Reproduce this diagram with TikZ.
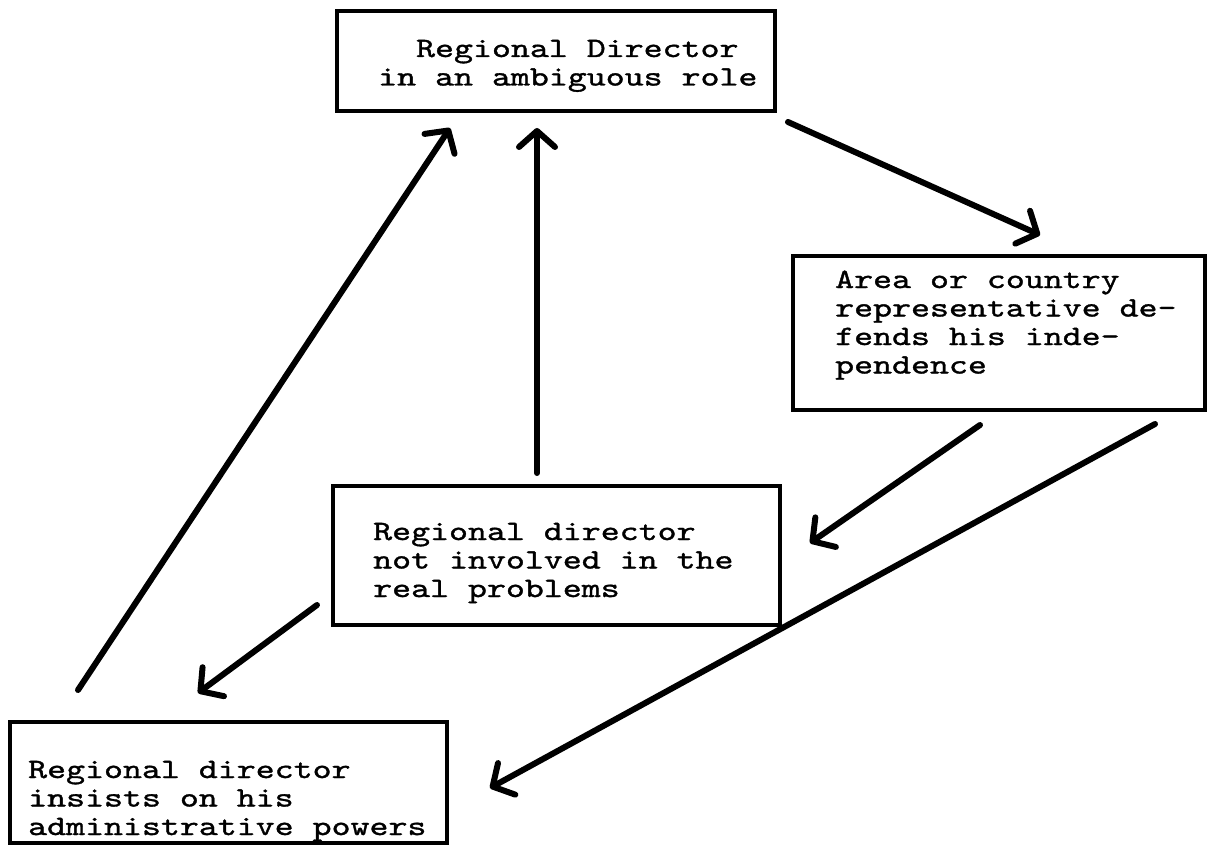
\documentclass[tikz,border=0pt]{standalone}
\usepackage{fontspec}
\setmonofont{lmmono10-regular.otf}[FakeStretch=1.29,FakeBold=1.2]
\usetikzlibrary{arrows.meta}
% stack of typewritten lines; the node's baseline is the first line's
\newcommand{\typelines}[1]{\vtop{\baselineskip=28.5pt\lineskiplimit=-20pt\halign{##\hfil\cr#1\crcr}}}
\begin{document}
\begin{tikzpicture}[x=1pt,y=-1pt,
  box/.style={draw, line width=4.5pt, inner sep=0pt, anchor=center},
  txt/.style={anchor=base west, inner sep=0pt, font=\fontsize{28}{28.5}\selectfont\ttfamily},
  link/.style={line width=6pt, line cap=round, line join=round,
    -{Straight Barb[length=16pt,width=36pt,line cap=round,line join=round]}}]
\useasboundingbox (0,0) rectangle (1208,845);

% boxes
\node[box, minimum width=438pt, minimum height=100pt] (top) at (556,61) {};
\node[box, minimum width=412pt, minimum height=154pt] (rep) at (999,333) {};
\node[box, minimum width=447pt, minimum height=139pt] (mid) at (556.5,555.5) {};
\node[box, minimum width=437pt, minimum height=121pt] (low) at (228.5,782.5) {};

% texts
\node[txt] (toptext) at (378,57) {\typelines{\phantom{in}Regional Director\cr in an ambiguous role}};
\node[txt] (reptext) at (835,288) {\typelines{Area or country\cr representative de-\cr fends his inde-\cr pendence}};
\node[txt] (midtext) at (373,540) {\typelines{Regional director\cr not involved in the\cr real problems}};
\node[txt] (lowtext) at (28,778) {\typelines{Regional director\cr insists on his\cr administrative powers}};

% free ends of the arrows
\coordinate (topout) at (788,122);
\coordinate (repin) at (1040,235);
\coordinate (midup) at (537,473);
\coordinate (topin1) at (537,128);
\coordinate (lowup) at (78,690);
\coordinate (topin2) at (450,128);
\coordinate (repout1) at (980,425);
\coordinate (midin) at (810,543);
\coordinate (repout2) at (1155,424);
\coordinate (lowin1) at (490,788);
\coordinate (midout) at (317,605);
\coordinate (lowin2) at (198,693);

% arrows
\draw[link] (topout) -- (repin);
\draw[link] (midup) -- (topin1);
\draw[link] (lowup) -- (topin2);
\draw[link] (repout1) -- (midin);
\draw[link] (repout2) -- (lowin1);
\draw[link] (midout) -- (lowin2);
\end{tikzpicture}
\end{document}
